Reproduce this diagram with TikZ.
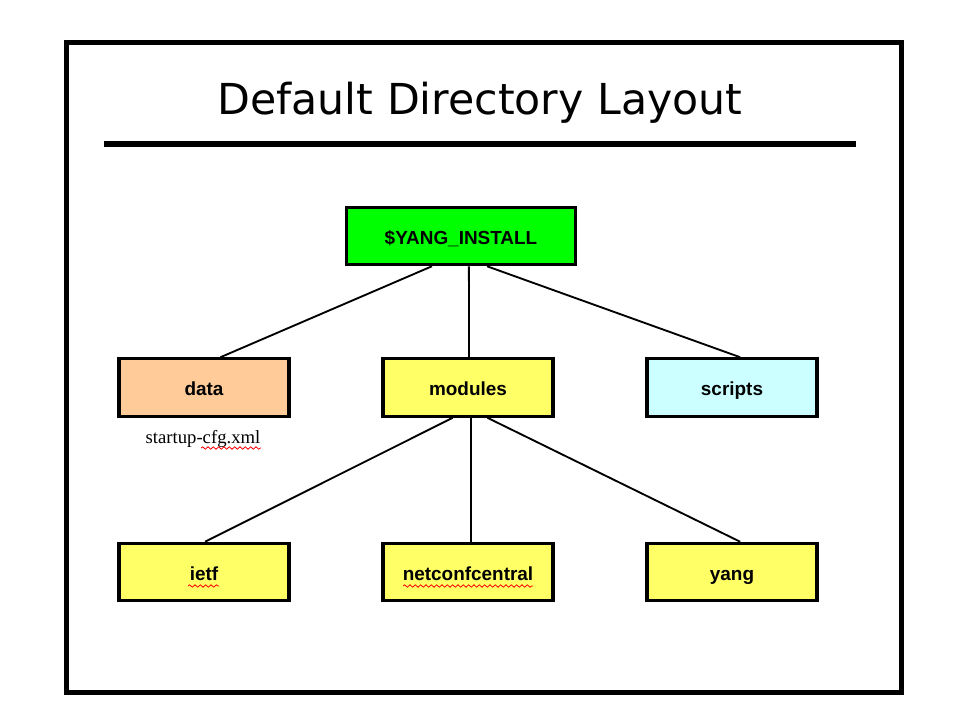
\documentclass[tikz,border=0pt]{standalone}
\usepackage{fontspec}
\setmainfont{Liberation Serif}
\setsansfont{Liberation Sans}
\newfontfamily\titlefont{DejaVu Sans}
\usetikzlibrary{calc,decorations.pathmorphing}
\definecolor{boxgreen}{HTML}{00FF00}
\definecolor{boxorange}{HTML}{FFCC99}
\definecolor{boxyellow}{HTML}{FFFF66}
\definecolor{boxcyan}{HTML}{CCFFFF}
\tikzset{
  dirbox/.style={draw=black, line width=2.4pt, minimum width=127.5pt, minimum height=43pt,
     inner sep=0pt, text height=14pt, text depth=1.5pt,
     font=\sffamily\bfseries\fontsize{14.2}{17}\selectfont},
  link/.style={line width=1.4pt},
  spell/.style={red, line width=0.6pt, decorate, decoration={snake, amplitude=0.9pt, segment length=4pt}}
}
\begin{document}
\begin{tikzpicture}[x=0.75pt,y=-0.75pt]
\useasboundingbox (0,0) rectangle (960,720);
\fill[white] (0,0) rectangle (960,720);
\draw[line width=3.8pt] (66.5,42.5) rectangle (901.5,692.5);
\node[font=\titlefont\fontsize{32}{38}\selectfont] (title) at (480,103) {Default Directory Layout};
\draw[line width=4.2pt] (104,144) -- (856,144);

\node[dirbox, fill=boxgreen, minimum width=172pt] (root) at (461,236) {\$YANG\_INSTALL};
\node[dirbox, fill=boxorange] (data) at (204,387.5) {data};
\node[dirbox, fill=boxyellow] (modules) at (468,387.5) {modules};
\node[dirbox, fill=boxcyan] (scripts) at (732,387.5) {scripts};
\node[dirbox, fill=boxyellow] (ietf) at (204,572) {ietf};
\node[dirbox, fill=boxyellow] (netconf) at (468,572) {netconfcentral};
\node[dirbox, fill=boxyellow] (yang) at (732,572) {yang};

\node[font=\fontsize{14}{17}\selectfont] (cfg) at (203,438.5) {startup-cfg.xml};

\draw[link] ($(root.south west)!0.375!(root.south east)$) -- ($(data.north west)!0.595!(data.north east)$);
\draw[link] ($(root.south west)!0.534!(root.south east)$) -- ($(modules.north west)!0.506!(modules.north east)$);
\draw[link] ($(root.south west)!0.612!(root.south east)$) -- ($(scripts.north west)!0.547!(scripts.north east)$);
\draw[link] ($(modules.south west)!0.412!(modules.south east)$) -- ($(ietf.north west)!0.506!(ietf.north east)$);
\draw[link] ($(modules.south west)!0.518!(modules.south east)$) -- ($(netconf.north west)!0.518!(netconf.north east)$);
\draw[link] ($(modules.south west)!0.612!(modules.south east)$) -- ($(yang.north west)!0.547!(yang.north east)$);

\draw[spell] (201,448) -- (261,448);
\draw[spell] (188,586) -- (219,586);
\draw[spell] (403,586) -- (533,586);
\end{tikzpicture}
\end{document}
